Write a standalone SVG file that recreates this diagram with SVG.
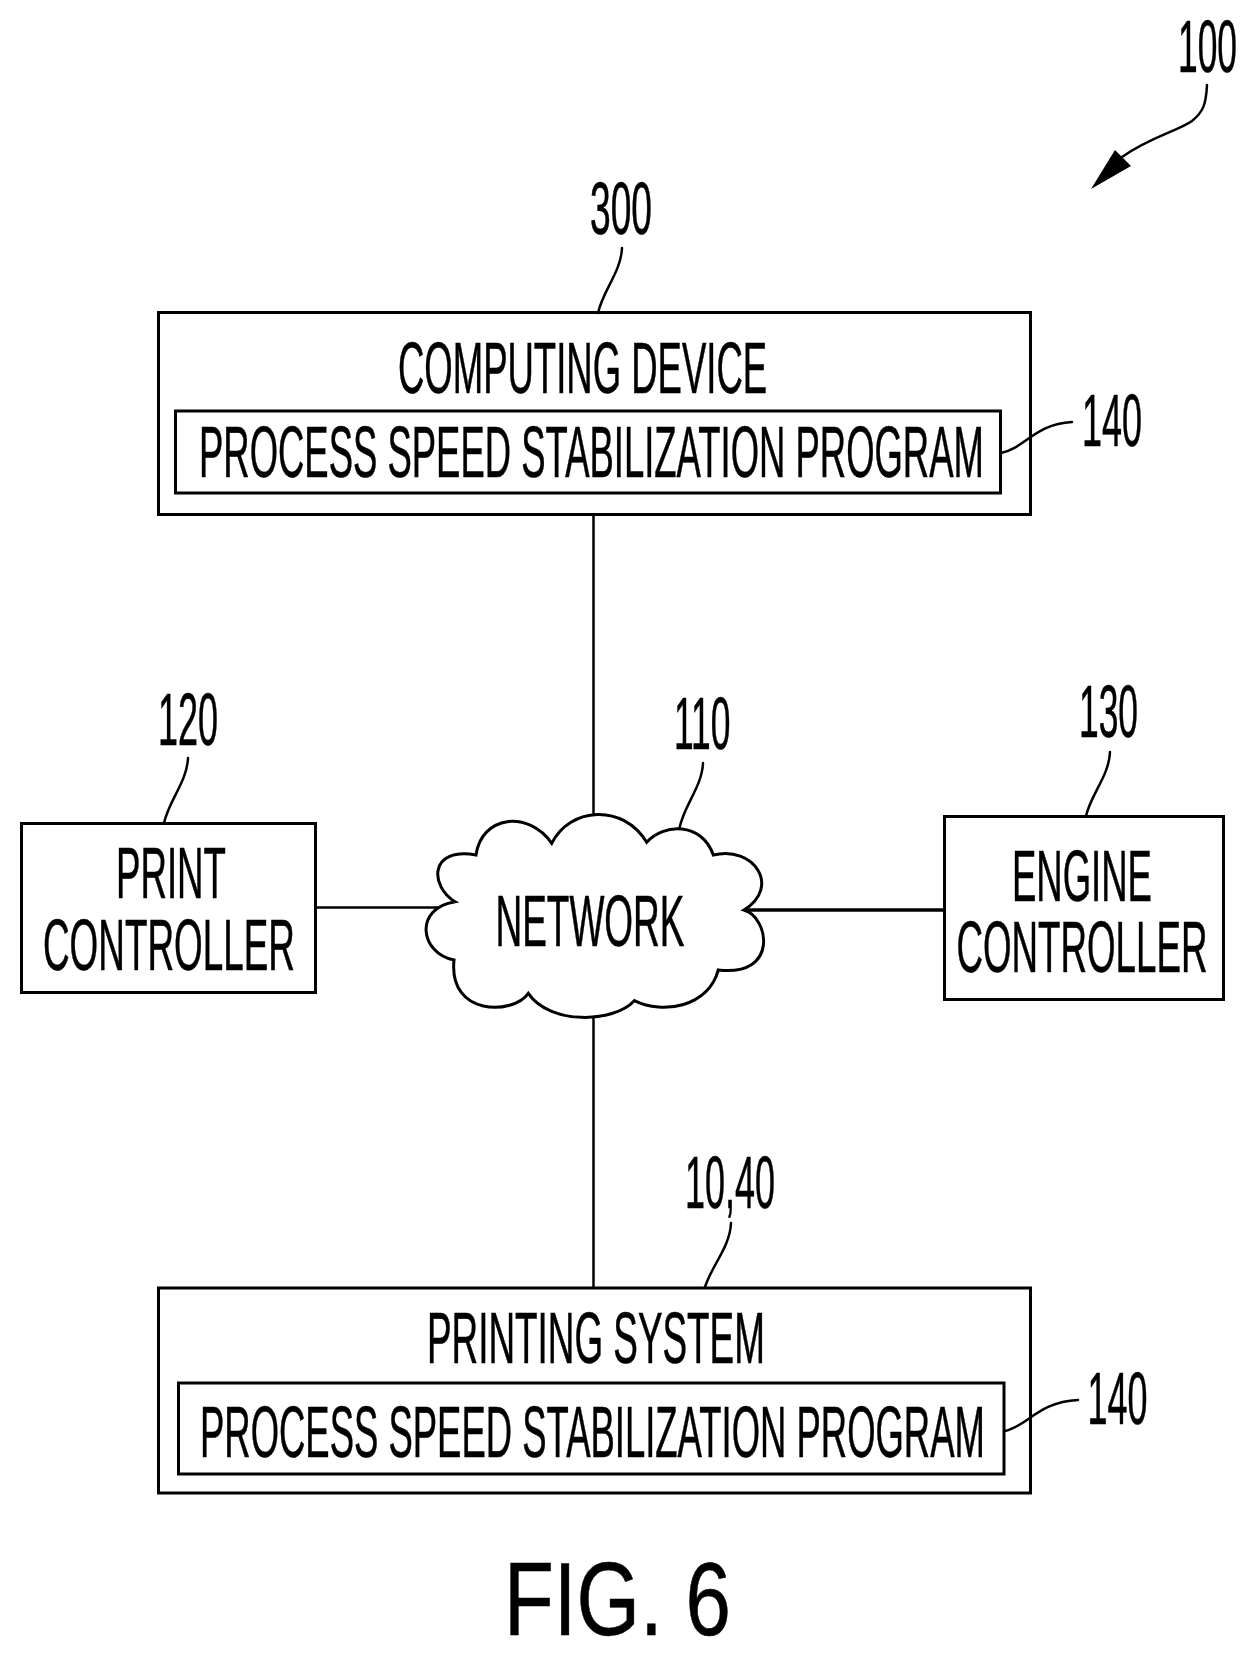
<svg xmlns="http://www.w3.org/2000/svg" width="1256" height="1658" viewBox="0 0 1256 1658">
<style>
.box{fill:#fff;stroke:#000;stroke-width:3}
.line{fill:none;stroke:#000;stroke-width:2.5}
.lead{fill:none;stroke:#000;stroke-width:2.5;stroke-linecap:round}
text{font-family:"Liberation Sans",Arial,sans-serif;font-size:72px;fill:#000;stroke:#000;stroke-width:.6}
.num{font-size:74px}
.fig{font-size:104px}
</style>
<rect width="1256" height="1658" fill="#fff"/>
<g id="ref-100"><text class="num" transform="translate(1178 72) scale(.478 1)">100</text></g>
<g id="computing-device">
<rect class="box" x="158.500" y="312.500" width="872" height="202"/>
<text transform="translate(398 393) scale(.507 1)">COMPUTING DEVICE</text>
<rect class="box" x="175.500" y="411" width="825" height="82"/>
<text transform="translate(199 476.500) scale(.5066 1)">PROCESS SPEED STABILIZATION PROGRAM</text>
<text class="num" transform="translate(590 234) scale(.502 1)">300</text>
<text class="num" transform="translate(1082 446) scale(.486 1)">140</text>
</g>
<g id="print-controller">
<rect class="box" x="21.500" y="823.500" width="294" height="169"/>
<text transform="translate(116 897.500) scale(.509 1)">PRINT</text>
<text transform="translate(43 969.500) scale(.512 1)">CONTROLLER</text>
<text class="num" transform="translate(158 745) scale(.486 1)">120</text>
</g>
<g id="network">
<path class="line" style="stroke-width:3" fill="#fff" d="M476,855C481.7,815 528.3,810 551.700,843.300C570,806.700 623.300,803.300 646.700,842.300C663.300,823.300 701.700,821.700 713.300,855C753.300,845 781.700,886.700 744,910C768.300,916.700 780,976.700 718.300,970C708.300,1006.700 663.300,1015 634.300,1000.700C613.300,1023.300 550,1025 528.300,993.300C513.300,1015 448.300,1016.700 454,960C420,953.300 413.300,908.300 455,901.700C430,886.700 428.300,846.700 476,855Z"/>
<text transform="translate(495.500 945.500) scale(.5136 1)">NETWORK</text>
<text class="num" transform="translate(674 749) scale(.478 1)">110</text>
</g>
<g id="engine-controller">
<rect class="box" x="944.500" y="816.500" width="279" height="183"/>
<text transform="translate(1012 900.500) scale(.507 1)">ENGINE</text>
<text transform="translate(956.500 971.500) scale(.510 1)">CONTROLLER</text>
<text class="num" transform="translate(1079 737) scale(.478 1)">130</text>
</g>
<g id="printing-system">
<rect class="box" x="158.500" y="1288" width="872" height="205"/>
<text transform="translate(427 1362.500) scale(.512 1)">PRINTING SYSTEM</text>
<rect class="box" x="178.500" y="1383" width="825.500" height="91"/>
<text transform="translate(200 1456.500) scale(.5066 1)">PROCESS SPEED STABILIZATION PROGRAM</text>
<text class="num" transform="translate(685 1208) scale(.486 1)">10,40</text>
<text class="num" transform="translate(1087.500 1424) scale(.486 1)">140</text>
</g>
<g id="figure-label"><text class="fig" transform="translate(504 1635) scale(.785 1)">FIG. 6</text></g>
<g id="connectors">
<line class="line" x1="593.500" y1="515" x2="593.500" y2="814"/>
<line class="line" x1="593.500" y1="1017" x2="593.500" y2="1288"/>
<line class="line" x1="316" y1="907.500" x2="438" y2="907.500"/>
<line class="line" style="stroke-width:3.500" x1="744" y1="910" x2="944" y2="910"/>
<path class="lead" d="M1207,85C1206,105 1203,112 1192,121C1178,131 1150,137 1122,157"/>
<polygon points="1091,189 1115,150 1131,166" fill="#000"/>
<path class="lead" d="M622,248C621,272 603,290 598,313"/>
<path class="lead" d="M1001,453C1025,448 1035,424 1072,422"/>
<path class="lead" d="M188,758C187,782 169,800 164,823"/>
<path class="lead" d="M703,763C702,787 684,805 679.500,828"/>
<path class="lead" d="M1110,752C1109,776 1091,794 1086,816"/>
<path class="lead" d="M731,1223C730,1247 712,1265 705,1287"/>
<path class="lead" d="M1005,1431C1028,1426 1038,1402 1078,1400"/>
</g>
</svg>
